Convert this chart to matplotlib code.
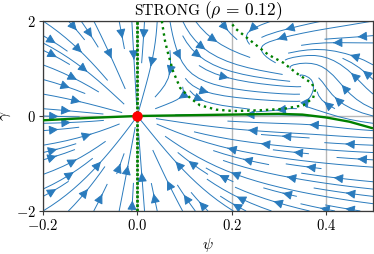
import numpy as np
import matplotlib
matplotlib.use("Agg")
import matplotlib.pyplot as plt
from matplotlib.path import Path

# ---------------- data ----------------
rho = 0.12
title_word = "STRONG"
xlim = (-0.2, 0.5)
ylim = (-2.0, 2.0)
xticks = [-0.2, 0.0, 0.2, 0.4]
yticks = [-2, 0, 2]

# psi-nullcline curve (dotted)
null_psi = [0.052, 0.059, 0.066, 0.076, 0.091, 0.112, 0.133, 0.168, 0.204, 0.26,
            0.31, 0.352, 0.373, 0.377, 0.37, 0.338, 0.31, 0.278, 0.246, 0.207, 0.197]
null_gamma = [2.0, 1.57, 1.29, 0.94, 0.59, 0.38, 0.225, 0.133, 0.105, 0.12,
              0.15, 0.225, 0.38, 0.55, 0.69, 0.9, 1.12, 1.29, 1.54, 1.85, 2.0]
# second psi-nullcline (dotted vertical line)
null2_psi = [0.0, 0.0]
null2_gamma = [-2.0, 2.0]
# gamma-nullcline (solid)
gnull_psi = [-0.2, -0.1, 0.0, 0.1, 0.2, 0.3, 0.35, 0.4, 0.45, 0.5]
gnull_gamma = [-0.09, -0.04, 0.0, 0.015, 0.03, 0.045, 0.03, -0.03, -0.12, -0.26]
# fixed point
fp_psi = [0.0]
fp_gamma = [0.0]

# ---------------- model parameters of the flow ----------------
psi_rate = 1.0
k_far, k_near, k_width = 0.4, 0.6, 0.2
push, push_psi, push_w, push_gamma, push_gw = 5.2, 0.385, 0.015, 0.7, 0.6
d0 = 0.05

# ---------------- style ----------------
plt.rcParams["font.family"] = "serif"
plt.rcParams["font.serif"] = ["cmr10", "DejaVu Serif"]
plt.rcParams["mathtext.fontset"] = "cm"
plt.rcParams["axes.unicode_minus"] = False

fig = plt.figure(figsize=(3.74, 2.54), dpi=100)
ax = fig.add_axes([43 / 374, 43 / 254, 330 / 374, 190 / 254])

# ---------------- vector field ----------------
psi_axis = np.linspace(xlim[0], xlim[1], 141)
gam_axis = np.linspace(ylim[0], ylim[1], 161)
P, Gm = np.meshgrid(psi_axis, gam_axis)

sx = (xlim[1] - xlim[0])
sy = (ylim[1] - ylim[0])
xs = np.asarray(null_psi) / sx
ys = np.asarray(null_gamma) / sy
px = (P / sx)[..., None]
py = (Gm / sy)[..., None]
ax0, ay0, bx, by = xs[:-1], ys[:-1], xs[1:], ys[1:]
dx, dy = bx - ax0, by - ay0
t = np.clip(((px - ax0) * dx + (py - ay0) * dy) / (dx ** 2 + dy ** 2), 0, 1)
dist = np.hypot(px - (ax0 + t * dx), py - (ay0 + t * dy)).min(axis=-1)
poly = np.column_stack([null_psi + [null_psi[-1], null_psi[0]],
                        null_gamma + [3.0, 3.0]])
inside = Path(poly).contains_points(
    np.column_stack([P.ravel(), Gm.ravel()])).reshape(P.shape)
g = np.where(inside, 1.0, -1.0) * np.tanh(dist / d0)
dpsi = psi_rate * P * g

c = np.interp(P, gnull_psi, gnull_gamma)
k = k_far + k_near * np.exp(-(P / k_width) ** 2)
U = push / (1 + np.exp(-(P - push_psi) / push_w)) * np.exp(-((Gm - push_gamma) / push_gw) ** 2)
dgam = -k * (Gm - c) + U

ax.streamplot(psi_axis, gam_axis, dpsi, dgam, density=0.9, color="#2a7bbd",
              linewidth=0.7, arrowsize=1.4, zorder=2)

ax.plot(null2_psi, null2_gamma, color="green", lw=2.0, dashes=(1, 0.6), zorder=3)
ax.plot(null_psi, null_gamma, color="green", lw=1.7, ls=":", zorder=3)
ax.plot(gnull_psi, gnull_gamma, color="green", lw=1.7, zorder=4, solid_capstyle="butt")
ax.plot(fp_psi, fp_gamma, "o", color="red", ms=6.5, zorder=5, clip_on=False)

ax.set_xlim(*xlim)
ax.set_ylim(*ylim)
ax.set_xticks(xticks)
ax.set_xticklabels([f"${v:.1f}$" for v in xticks], fontsize=10.5)
ax.set_yticks(yticks)
ax.set_yticklabels([f"${v:d}$" for v in yticks], fontsize=10.5)
ax.grid(True, color="#b8b8b8", lw=1.0, zorder=0)
ax.set_axisbelow(True)
for s in ax.spines.values():
    s.set_color("#3a3a3a")
    s.set_linewidth(0.9)
ax.tick_params(length=3, width=0.8, color="#3a3a3a", pad=2)

ax.set_xlabel(r"$\psi$", fontsize=11, labelpad=2)
ax.set_ylabel(r"$\gamma$", fontsize=11, labelpad=2)

ax.text(0.476, 1.032, title_word, transform=ax.transAxes, ha="right",
        va="baseline", fontsize=11)
ax.text(0.488, 1.032, rf"$(\rho\,=\,{rho})$", transform=ax.transAxes, ha="left",
        va="baseline", fontsize=12.5)

fig.savefig("out.png", dpi=100)
